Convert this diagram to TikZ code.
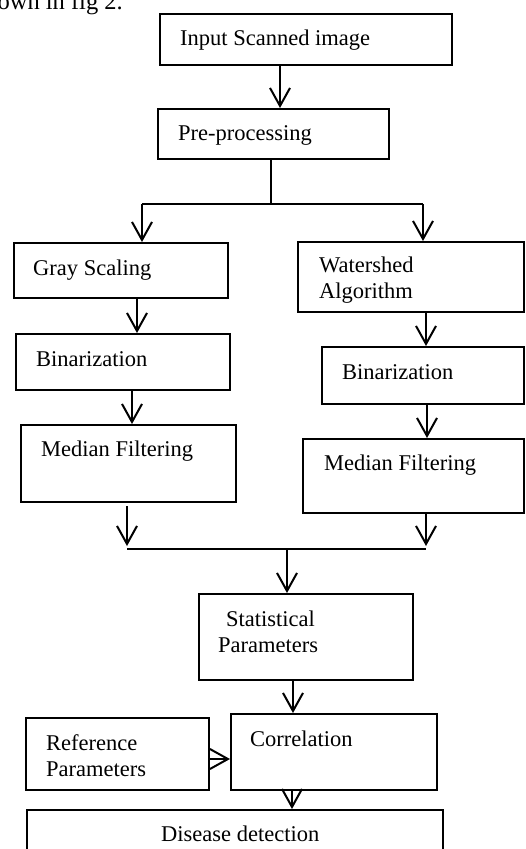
\documentclass[tikz,border=0pt]{standalone}
\usepackage{fontspec}
\setmainfont{Liberation Serif}
\usetikzlibrary{arrows.meta}

\tikzset{
  box/.style={draw, line width=2pt, inner sep=0pt, anchor=north west},
  lbl/.style={anchor=base west, inner sep=0pt, font=\fontsize{22.5}{26}\selectfont},
  conn/.style={line width=2pt},
  arr/.style={conn, -{Straight Barb[length=18pt,width=20pt]}},
}

\begin{document}
\begin{tikzpicture}[x=1pt, y=-1pt]
  \useasboundingbox (0,0) rectangle (525,849);
  \clip (0,0) rectangle (525,849);

  % running text from the page above the figure
  \node[lbl, anchor=base east, font=\fontsize{24.5}{28}\selectfont] (prose) at (123,9) {shown in fig 2.};

  % process boxes
  \node[box, minimum width=292, minimum height=51] (inp)  at (159,13)  {};
  \node[box, minimum width=231, minimum height=50] (pre)  at (157,108) {};
  \node[box, minimum width=214, minimum height=55] (gray) at (13,242)  {};
  \node[box, minimum width=226, minimum height=70] (ws)   at (297,241) {};
  \node[box, minimum width=214, minimum height=56] (binL) at (15,333)  {};
  \node[box, minimum width=202, minimum height=57] (binR) at (321,346) {};
  \node[box, minimum width=215, minimum height=77] (medL) at (20,424)  {};
  \node[box, minimum width=221, minimum height=74] (medR) at (302,438) {};
  \node[box, minimum width=214, minimum height=86] (stat) at (198,593) {};
  \node[box, minimum width=183, minimum height=72] (ref)  at (25,717)  {};
  \node[box, minimum width=206, minimum height=76] (cor)  at (230,713) {};
  \node[box, minimum width=416, minimum height=60] (dis)  at (26,809)  {};

  % box texts
  \node[lbl] (tinp)  at (180,45)  {Input Scanned image};
  \node[lbl] (tpre)  at (178,140) {Pre-processing};
  \node[lbl] (tgray) at (33,275)  {Gray Scaling};
  \node[lbl] (tws1)  at (319,272) {Watershed};
  \node[lbl] (tws2)  at (319,298) {Algorithm};
  \node[lbl] (tbinL) at (36,366)  {Binarization};
  \node[lbl] (tbinR) at (342,379) {Binarization};
  \node[lbl] (tmedL) at (41,456)  {Median Filtering};
  \node[lbl] (tmedR) at (324,470) {Median Filtering};
  \node[lbl] (tst1)  at (226,626) {Statistical};
  \node[lbl] (tst2)  at (218,652) {Parameters};
  \node[lbl] (tref1) at (46,750)  {Reference};
  \node[lbl] (tref2) at (46,776)  {Parameters};
  \node[lbl] (tcor)  at (250,746) {Correlation};
  \node[lbl] (tdis)  at (161,841) {Disease detection};

  % branch and merge points
  \coordinate (split) at (271,204);
  \coordinate (spL)   at (142,204);
  \coordinate (spR)   at (423,204);
  \coordinate (mL)    at (127,549);
  \coordinate (mR)    at (426,549);
  \coordinate (mJ)    at (287,549);

  % connectors
  \draw[arr] (inp.south -| 280,0) -- (pre.north -| 280,0);
  \draw[conn] (pre.south -| split) -- (split);
  \draw[conn] (spL) -- (spR);
  \draw[arr] (spL) -- (gray.north -| spL);
  \draw[arr] (spR) -- (ws.north -| spR);
  \draw[arr] (gray.south -| 137,0) -- (binL.north -| 137,0);
  \draw[arr] (ws.south -| 426,0) -- (binR.north -| 426,0);
  \draw[arr] (binL.south -| 132,0) -- (medL.north -| 132,0);
  \draw[arr] (binR.south -| 427,0) -- (medR.north -| 427,0);
  \draw[arr, shorten <=3pt, shorten >=3pt] (medL.south -| mL) -- (mL);
  \draw[arr, shorten >=3pt] (medR.south -| mR) -- (mR);
  \draw[conn] (mL) -- (mR);
  \draw[arr] (mJ) -- (stat.north -| mJ);
  \draw[arr] (stat.south -| 293,0) -- (cor.north -| 293,0);
  \draw[arr] (ref.east |- 0,759) -- (cor.west |- 0,759);
  \draw[arr] (cor.south -| 292,0) -- (dis.north -| 292,0);
\end{tikzpicture}
\end{document}
